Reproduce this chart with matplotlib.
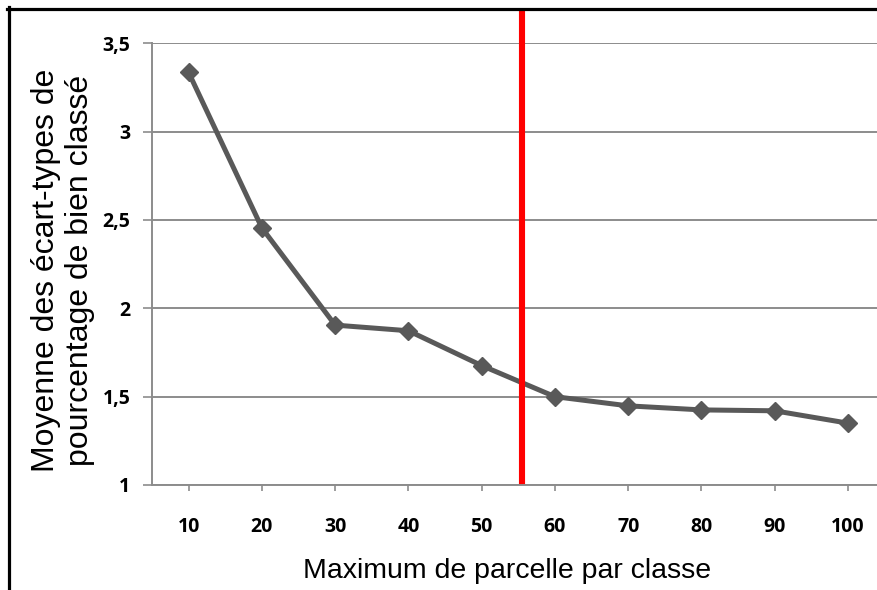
import matplotlib
matplotlib.use("Agg")
import matplotlib.pyplot as plt
from matplotlib.lines import Line2D

categories = ["10", "20", "30", "40", "50", "60", "70", "80", "90", "100"]
values = [3.335, 2.455, 1.905, 1.873, 1.676, 1.500, 1.448, 1.425, 1.420, 1.350]
y_ticks = [1, 1.5, 2, 2.5, 3, 3.5]
y_tick_labels = ["1", "1,5", "2", "2,5", "3", "3,5"]
threshold_pos = 4.553  # between 50 and 60

W, H = 878, 590
fig = plt.figure(figsize=(W / 100, H / 100), dpi=100)
fig.patch.set_facecolor("white")

left, right, top, bottom = 152, 884.6, 43.3, 485
ax = fig.add_axes([left / W, 1 - bottom / H, (right - left) / W, (bottom - top) / H])
ax.set_facecolor("white")

x = list(range(len(categories)))
ax.plot(x, values, color="#595959", lw=3.6, marker="D", ms=9.5,
        markeredgecolor="#595959", markerfacecolor="#595959", zorder=3, clip_on=False)

ax.axvline(threshold_pos, ymin=0.009, ymax=(bottom - 12.5) / (bottom - top),
           color="#FF0000", lw=4.4, zorder=4, clip_on=False)

ax.set_xlim(-0.5, len(categories) - 0.5)
ax.set_ylim(1, 3.5)
ax.set_yticks(y_ticks)
ax.set_yticklabels(y_tick_labels)
ax.set_xticks(x)
ax.set_xticklabels(categories)

grid_c = "#8C8C8C"
ax.yaxis.grid(True, color=grid_c, lw=1.4, zorder=0)
ax.xaxis.grid(False)
for s in ["top", "right"]:
    ax.spines[s].set_visible(False)
for s in ["left", "bottom"]:
    ax.spines[s].set_color(grid_c)
    ax.spines[s].set_linewidth(1.4)

for lbl in ax.get_xticklabels() + ax.get_yticklabels():
    lbl.set_fontfamily("Open Sans")
    lbl.set_fontweight("bold")
    lbl.set_fontsize(14)
    lbl.set_color("black")

ax.tick_params(axis="x", length=4, width=1.2, color=grid_c, pad=19)
ax.tick_params(axis="y", length=6.5, width=1.2, color=grid_c, pad=9)

label_font = "Liberation Sans"
fig.text(507 / W, 1 - 577.7 / H, "Maximum de parcelle par classe",
         ha="center", va="baseline", fontsize=20.5, family=label_font)
fig.text(63 / W, 1 - 270 / H, "Moyenne des écart-types de\npourcentage de bien classé",
         ha="center", va="center", rotation=90, fontsize=23, family=label_font,
         linespacing=1.15, multialignment="center")

# figure border (top and left)
fig.add_artist(Line2D([7 / W, 1], [1 - 8.7 / H, 1 - 8.7 / H], transform=fig.transFigure,
                      color="black", lw=2.3))
fig.add_artist(Line2D([8.7 / W, 8.7 / W], [1 - 7 / H, 0], transform=fig.transFigure,
                      color="black", lw=2.3))

fig.savefig("out.png", dpi=100)
